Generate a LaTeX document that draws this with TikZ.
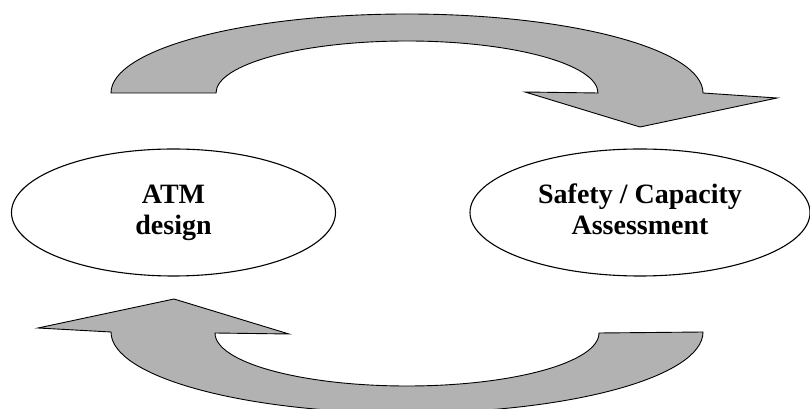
\documentclass[tikz,border=0pt]{standalone}
\usepackage{fontspec}
\setmainfont{Liberation Serif}
\usetikzlibrary{shapes.geometric}
\definecolor{arrowgrey}{RGB}{178,178,178}
\tikzset{
  bubble/.style={ellipse, draw=black, line width=1.1pt, fill=white, inner sep=0pt,
    font=\fontsize{28}{31}\selectfont\bfseries},
  bigarrow/.style={draw=black, line width=0.9pt, fill=arrowgrey, line join=miter}
}
\begin{document}
\begin{tikzpicture}[x=1pt,y=1pt]
\useasboundingbox (0,0) rectangle (810,409);
\clip (0,0) rectangle (810,409);
% top curved arrow (left to right)
\draw[bigarrow] (111,316) arc[start angle=180, end angle=0, x radius=296, y radius=79]
  -- (777,311) -- (640,282) -- (525,317) -- (598,316)
  arc[start angle=0, end angle=180, x radius=191, y radius=52] -- cycle;
% bottom curved arrow (right to left)
\draw[bigarrow] (599,76) arc[start angle=0, end angle=-180, x radius=192, y radius=53]
  -- (289,75) -- (174,110) -- (38,81) -- (111,77)
  arc[start angle=180, end angle=360, x radius=296, y radius=81] -- cycle;
% ellipses
\node[bubble, minimum width=324pt, minimum height=127pt] (atm) at (173.5,196.5)
  {\begin{tabular}{c}ATM\\design\end{tabular}};
\node[bubble, minimum width=340pt, minimum height=127pt] (safety) at (640,196.5)
  {\begin{tabular}{c}Safety / Capacity\\Assessment\end{tabular}};
\end{tikzpicture}
\end{document}
